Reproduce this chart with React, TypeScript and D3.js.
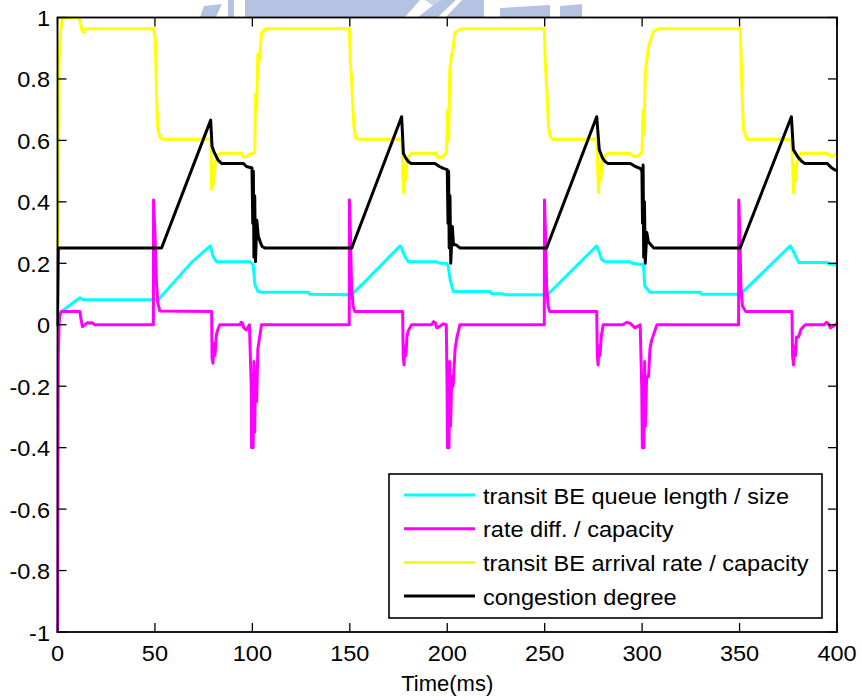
import * as d3 from 'd3'

// time (ms) / value pairs
const queueLen: [number, number][] = [
  [0, 0], [1.2, 0.032], [2, 0.043], [11.5, 0.088], [13.1, 0.081], [51.7, 0.081], [68.8, 0.203], [78.4, 0.257],
  [79.9, 0.222], [81.6, 0.205], [98.7, 0.205], [100.4, 0.195], [100.9, 0.16], [101.3, 0.13], [103, 0.108],
  [104.7, 0.106], [128.5, 0.106], [129.6, 0.099], [150.9, 0.098],
  [158.7, 0.146], [175.8, 0.257], [176.6, 0.25], [178, 0.225], [180, 0.205], [194.6, 0.205], [196, 0.2],
  [199.7, 0.2], [200.5, 0.19], [201.5, 0.146], [203.1, 0.108], [221.9, 0.108], [222.8, 0.101], [228.8, 0.101],
  [229.5, 0.098], [251.5, 0.098],
  [276.7, 0.257], [279.3, 0.212], [281, 0.205], [293.9, 0.205], [295, 0.2], [300.7, 0.195], [301.4, 0.125],
  [304, 0.106], [329.8, 0.106], [330.5, 0.099], [350.4, 0.099],
  [376, 0.257], [377.5, 0.24], [380.3, 0.203], [394.9, 0.203], [396, 0.197], [400, 0.197],
]

const rateDiff: [number, number][] = [
  [0, -1], [0.2, -0.6], [0.4, -0.1], [0.8, 0.0], [1.2, 0.03], [2, 0.043], [11.5, 0.043], [12, 0.02],
  [12.8, -0.006], [14, 0.0], [15.5, 0.007], [16.6, 0.005], [17.5, 0.007], [19.2, 0.0], [49.2, 0.0],
  [49.3, 0.406], [50, 0.3], [50.8, 0.135], [51.5, 0.07], [52.5, 0.045], [79.1, 0.043], [79.3, -0.109],
  [79.8, -0.125], [80.3, -0.06], [80.8, -0.1], [81.6, -0.03], [82.4, -0.014], [83.3, 0.0], [93.6, 0.0],
  [94.2, 0.008], [95, 0.005], [95.6, -0.01], [97, -0.017], [98.5, 0.0], [99.4, -0.2], [99.6, -0.4],
  [100.4, -0.4], [100.8, -0.12], [101.2, -0.35], [101.6, -0.15], [102.2, -0.25], [102.8, -0.08],
  [103.5, -0.05], [104.7, 0.0],
  [149.7, 0.0], [149.8, 0.406], [150.3, 0.3], [150.9, 0.125], [151.7, 0.06], [152.6, 0.043], [177.1, 0.043],
  [177.4, -0.1], [177.8, -0.131], [178.3, -0.07], [178.8, -0.1], [179.3, -0.04], [180, -0.02], [181.7, 0.0],
  [192, 0.0], [193, 0.01], [194, 0.006], [194.6, -0.01], [196, -0.006], [198, 0.003], [199.5, 0.0],
  [199.9, -0.2], [200.1, -0.4], [200.9, -0.4], [201.3, -0.12], [201.7, -0.33], [202.3, -0.17], [203, -0.2],
  [204, -0.08], [205, -0.04], [206.5, 0.0],
  [249.8, 0.0], [249.9, 0.406], [250.4, 0.3], [251, 0.125], [251.8, 0.06], [252.6, 0.043], [276.7, 0.043],
  [277, -0.1], [277.4, -0.131], [277.9, -0.07], [278.4, -0.1], [279, -0.04], [280, 0.0], [290, 0.0],
  [292.2, 0.008], [294, 0.004], [296.4, -0.01], [299, 0.0], [299.8, -0.2], [300.1, -0.4], [300.9, -0.4],
  [301.3, -0.12], [301.7, -0.33], [302.3, -0.17], [303.3, -0.17], [304, -0.08], [304.9, -0.05], [307.6, 0.0],
  [349.5, 0.0], [349.6, 0.406], [350.1, 0.3], [350.7, 0.125], [351.5, 0.06], [353.2, 0.043], [376.9, 0.043],
  [377.2, -0.1], [377.7, -0.131], [378.2, -0.07], [378.7, -0.1], [379.2, -0.04], [380.3, -0.04],
  [381.5, -0.015], [383.7, 0.0], [393.5, 0.0], [394.6, 0.008], [395.5, 0.004], [396.6, -0.01], [398, -0.005],
  [400, 0.003],
]

const arrivalRate: [number, number][] = [
  [0, 0.25], [0.4, 0.3], [0.8, 0.86], [1.5, 0.95], [2.5, 1.0], [10.5, 1.0], [11.5, 0.99], [12.5, 0.96],
  [13.2, 0.952], [14.5, 0.963],
  [49.3, 0.963], [50.2, 0.93], [50.8, 0.75], [51.5, 0.64], [52.5, 0.61], [54, 0.604],
  [78.6, 0.604], [79.1, 0.44], [79.6, 0.52], [80.2, 0.46], [81, 0.53], [82, 0.55], [83.3, 0.558],
  [94.5, 0.558], [95.3, 0.547], [97.7, 0.547], [98.5, 0.555], [101.2, 0.56], [101.6, 0.75], [102.2, 0.7],
  [102.8, 0.88], [103.5, 0.86], [104.7, 0.95], [106, 0.958], [107.3, 0.963],
  [149.8, 0.963], [150.3, 0.85], [151, 0.79], [152, 0.65], [153, 0.61], [154, 0.604],
  [176.8, 0.604], [177.5, 0.43], [178, 0.52], [178.6, 0.47], [179.3, 0.53], [180.5, 0.55], [181.7, 0.558],
  [194.3, 0.558], [195, 0.544], [197.5, 0.546], [198.8, 0.555], [199.6, 0.56], [200.2, 0.7], [200.7, 0.6],
  [201.3, 0.83], [202.3, 0.88], [203, 0.9], [204, 0.95], [205.5, 0.958], [207.4, 0.963],
  [249.8, 0.963], [250.3, 0.85], [251, 0.78], [252, 0.64], [253, 0.61], [254, 0.604],
  [276.8, 0.604], [277.6, 0.43], [278.2, 0.52], [278.8, 0.47], [279.4, 0.53], [281, 0.55], [282.8, 0.558],
  [293.9, 0.558], [295.6, 0.547], [298, 0.55], [299.9, 0.56], [300.5, 0.7], [301, 0.62], [301.6, 0.82],
  [303.3, 0.905], [304.5, 0.93], [305.8, 0.954], [308.4, 0.963],
  [350.4, 0.963], [351.2, 0.776], [352, 0.636], [353.7, 0.604],
  [376.8, 0.604], [377.7, 0.43], [378.3, 0.52], [378.9, 0.47], [379.4, 0.53], [381.2, 0.558],
  [394.9, 0.558], [397.4, 0.547], [400, 0.558],
]

const congestion: [number, number][] = [
  [0, 0], [0.4, 0.25], [53.4, 0.25], [78.6, 0.666], [79.3, 0.58], [80.5, 0.56], [82.4, 0.536], [84.2, 0.525],
  [95.3, 0.525], [97, 0.515], [99.8, 0.51], [100.2, 0.33], [100.5, 0.5], [100.8, 0.22], [101.2, 0.42],
  [101.6, 0.205], [102.3, 0.34], [103, 0.29], [104, 0.27], [105, 0.255], [106.4, 0.25],
  [151, 0.25], [176.6, 0.677], [177.5, 0.558], [178.5, 0.545], [180, 0.531], [181.5, 0.525], [193.7, 0.525],
  [196, 0.515], [198, 0.509], [200, 0.505], [200.4, 0.33], [200.7, 0.5], [201, 0.25], [201.4, 0.42],
  [201.8, 0.2], [202.6, 0.32], [203.2, 0.26], [204.5, 0.26], [206.5, 0.25],
  [251, 0.25], [276.7, 0.677], [278, 0.57], [279.5, 0.545], [281, 0.531], [282.5, 0.525], [294, 0.525],
  [296.5, 0.515], [299, 0.509], [299.9, 0.5], [300.2, 0.33], [300.5, 0.52], [300.8, 0.22], [301.2, 0.4],
  [301.6, 0.2], [302.4, 0.3], [303.2, 0.27], [304.5, 0.26], [306, 0.25],
  [350.3, 0.25], [376.6, 0.677], [377.6, 0.57], [380, 0.545], [382, 0.531], [383.5, 0.525], [394.9, 0.525],
  [397, 0.512], [399, 0.504], [400, 0.503],
]

const seriesNames = [
  'transit BE queue length / size',
  'rate diff. / capacity',
  'transit BE arrival rate / capacity',
  'congestion degree',
]
const seriesColors = ['#00ffff', '#ff00ff', '#ffff00', '#000000']

const xTicks = [0, 50, 100, 150, 200, 250, 300, 350, 400]
const yTicks = [-1, -0.8, -0.6, -0.4, -0.2, 0, 0.2, 0.4, 0.6, 0.8, 1]
const xLabel = 'Time(ms)'

const W = 862
const H = 700
const left = 57.5
const right = 837
const top = 17.5
const bottom = 632
const tickLen = 9
const font = '"Liberation Sans", Arial, sans-serif'
const stretch = 1.07 // the original lettering runs a bit wide

const App = () => {
  const x = d3.scaleLinear().domain([0, 400]).range([left, right])
  const y = d3.scaleLinear().domain([-1, 1]).range([bottom, top])
  const line = d3
    .line<[number, number]>()
    .x((d) => x(d[0]))
    .y((d) => y(d[1]))

  const allSeries = [queueLen, rateDiff, arrivalRate, congestion]

  // legend box
  const lgX0 = 389
  const lgX1 = 822
  const lgY0 = 474
  const lgY1 = 618
  const rowH = 33.7

  return (
    <svg
      width={W}
      height={H}
      viewBox={`0 0 ${W} ${H}`}
      style={{ position: 'absolute', left: 0, top: 0, background: '#fff' }}
      fontFamily={font}
    >
      {/* faint logo watermark cut off by the top edge */}
      <g fill="#b3c3e1">
        <polygon points="200,17 216,17 222,4 204,6" />
        <rect x={228} y={0} width={6} height={17} />
        <polygon points="245,17 405,17 420,0 245,0" />
        <polygon points="418,17 438,17 456,0 440,0" />
        <polygon points="446,17 484,17 484,0 462,0" />
        <polygon points="500,17 550,17 550,5 500,8" />
        <polygon points="560,17 582,17 582,4 560,6" />
      </g>
      <polygon points="425,0 441,0 433,6" fill="#c7d3ea" />

      <rect x={left} y={top} width={right - left} height={bottom - top} fill="#fff" />
      <clipPath id="plotClip">
        <rect x={left - 1} y={top - 1} width={right - left + 2} height={bottom - top + 2} />
      </clipPath>

      <g clipPath="url(#plotClip)" fill="none" strokeWidth={3} strokeLinejoin="round" strokeLinecap="round">
        {allSeries.map((s, i) => (
          <path key={i} d={line(s) ?? undefined} stroke={seriesColors[i]} />
        ))}
      </g>

      {/* frame and ticks */}
      <rect x={left} y={top} width={right - left} height={bottom - top} fill="none" stroke="#000" strokeWidth={1.8} />
      <g stroke="#000" strokeWidth={1.3}>
        {xTicks.map((t) => (
          <g key={t}>
            <line x1={x(t)} x2={x(t)} y1={bottom} y2={bottom - tickLen} />
            <line x1={x(t)} x2={x(t)} y1={top} y2={top + tickLen} />
          </g>
        ))}
        {yTicks.map((t) => (
          <g key={t}>
            <line x1={left} x2={left + tickLen} y1={y(t)} y2={y(t)} />
            <line x1={right} x2={right - tickLen} y1={y(t)} y2={y(t)} />
          </g>
        ))}
      </g>
      <g fontSize={22} fill="#000">
        {xTicks.map((t) => (
          <text key={t} transform={`translate(${x(t)},661) scale(${stretch},1)`} textAnchor="middle">
            {String(t)}
          </text>
        ))}
        {yTicks.map((t) => (
          <text key={t} transform={`translate(50,${y(t) + 8.5}) scale(${stretch},1)`} textAnchor="end">
            {String(t)}
          </text>
        ))}
        <text x={(left + right) / 2} y={691} textAnchor="middle">
          {xLabel}
        </text>
      </g>

      {/* legend */}
      <rect x={lgX0} y={lgY0} width={lgX1 - lgX0} height={lgY1 - lgY0} fill="#fff" stroke="#000" strokeWidth={1.6} />
      {seriesNames.map((name, i) => {
        const cy = 495 + i * rowH
        return (
          <g key={name}>
            <line x1={404} x2={475} y1={cy} y2={cy} stroke={seriesColors[i]} strokeWidth={3} />
            <text transform={`translate(483,${cy + 8.5}) scale(${stretch},1)`} fontSize={22}>
              {name}
            </text>
          </g>
        )
      })}
    </svg>
  )
}

export default App
